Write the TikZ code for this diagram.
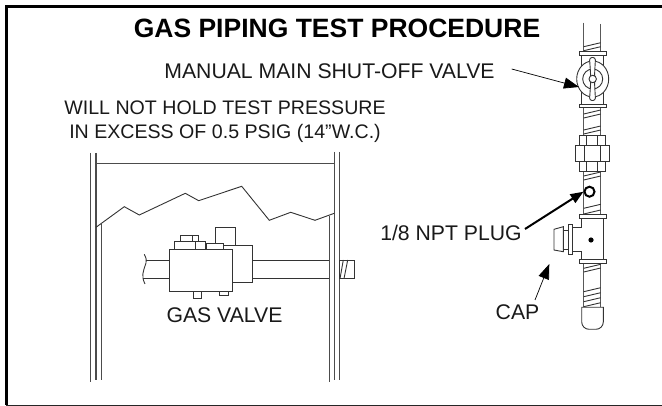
\documentclass[tikz,border=0pt]{standalone}
\usepackage{fontspec}
\setmainfont{Liberation Sans}
\usetikzlibrary{arrows.meta}
\tikzset{
  ln/.style={draw=black!80,line width=0.9pt,line join=miter},
  pipeln/.style={draw=black!65,line width=1.2pt},
  wall/.style={draw=black!70,line width=1.1pt},
  part/.style={ln,fill=white},
  lab/.style={inner sep=0pt,font=\fontsize{21.2}{24}\selectfont,text=black!90},
  labhold/.style={inner sep=0pt,font=\fontsize{19.6}{24}\selectfont,text=black!90},
  ptr/.style={draw=black,line width=0.7pt,-{Triangle[length=15pt,width=11pt]}},
  ptrb/.style={draw=black,line width=2pt,-{Triangle[length=13pt,width=10pt]}},
}
\begin{document}
\begin{tikzpicture}[x=1pt,y=-1pt]
\useasboundingbox (0,0) rectangle (662,406);
% frame
\draw[black,line width=3pt] (662,7) -- (6,7) -- (6,405);
\draw[black!85,line width=1pt] (6,405) -- (662,405);
% walls
\draw[wall] (90.7,153) -- (90.7,382);
\draw[wall] (96,153) -- (96,380);
\draw[wall] (101.3,224) -- (101.3,380);
\draw[wall] (329.3,216) -- (329.3,382);
\draw[wall] (334.3,152) -- (334.3,380);
\draw[wall] (339.5,152) -- (339.5,380);
\draw[wall] (96,163.3) -- (334.3,163.3);
\draw[ln] (96,227.3) -- (124.3,206.7) -- (139.3,215) -- (185.3,193.3) -- (198.7,200.7) -- (241.7,186.3) -- (269.3,220.3) -- (290.7,212.3) -- (315,220.3) -- (334.3,213.3);
% gas valve
\draw[ln] (145.7,260) -- (169.7,260) (143,278.7) -- (169.7,278.7);
\draw[ln] (144.3,254.3) .. controls (146,258) and (147,260) .. (146,263) .. controls (143,272) and (141,276) .. (145,284);
\draw[ln] (252.7,260) -- (329.3,260) (252.7,278.7) -- (329.3,278.7);
\draw[part] (339.5,260) rectangle (354,278.7);
\draw[ln] (343.3,260) -- (340,278.7) (347.7,260) -- (344,278.7);
\draw[part] (215,227.7) rectangle (235.7,245.3);
\draw[part] (223,245.3) -- (252.7,245.3) -- (252.7,282.7) -- (232.3,282.7);
\draw[part] (180.3,235.3) rectangle (198.7,241.3);
\draw[ln] (192.3,235.3) -- (192.3,241.3);
\draw[part] (174.3,241.3) rectangle (205.3,249.3);
\draw[ln] (195.7,241.3) -- (195.7,249.3);
\draw[part] (206,243.7) rectangle (223.3,249.3);
\draw[part] (169.7,249.3) rectangle (232.3,291);
\draw[part] (193.3,291) rectangle (201.7,298.3);
\draw[part] (219.3,291) rectangle (228,295.3);
% pipe
\draw[pipeln] (583.7,22.7) -- (583.7,307.3);
\draw[pipeln] (600.7,24) -- (600.7,307.3);
\foreach \y in {46.7,50.7,114,118,130,134,176,180,208.3,214,268.3,272,291.7,296.7,301.7,306.7}
  \draw[ln] (583.7,\y) -- (600.7,\y-4);
% shut-off valve
\draw[part] (581.3,55) rectangle (603.3,104);
\draw[part] (579,51.7) rectangle (606,55);
\draw[part] (579,104) rectangle (606,107.3);
\draw[part] (592.7,79) ellipse (16 and 18);
\draw[ln] (592.7,79) circle (10);
\draw[part,rounded corners=2.5pt] (589.5,57.5) -- (595.5,57.5) -- (594.5,76) -- (594.5,82) -- (595.5,100.5) -- (589.5,100.5) -- (590.7,82) -- (590.7,76) -- cycle;
\draw[part] (592.7,79) circle (3.7);
% union
\draw[part] (579.3,135.7) rectangle (605,145.7);
\draw[ln] (586.7,135.7) -- (586.7,145.7) (597.3,135.7) -- (597.3,145.7);
\draw[part] (579.3,161) rectangle (605,171);
\draw[ln] (586.7,161) -- (586.7,171) (597.3,161) -- (597.3,171);
\draw[part] (575.7,145.7) rectangle (609.3,161);
\draw[ln] (584.7,145.7) -- (584.7,161) (600.7,145.7) -- (600.7,161);
% tee
\draw[part] (581.7,218.7) -- (603.3,218.7) -- (603.3,259.7) -- (581.7,259.7) -- (581.7,251.7) -- (572.7,251.7) -- (572.7,227.3) -- (581.7,227.3) -- cycle;
\draw[part] (579,214.3) rectangle (606,218.7);
\draw[part] (579,259.7) rectangle (606,263.3);
\draw[part] (568.7,224.3) rectangle (572.7,254);
\draw[part] (563.3,230) rectangle (568.7,249.3);
\draw[part] (563.3,226.7) -- (554,229.3) -- (554,250) -- (563.3,251.7) -- cycle;
\fill[black] (591,240) circle (2.6);
% pipe cap
\draw[part] (581.7,307.3) -- (603.3,307.3) -- (603.3,322) arc (0:90:7.3) -- (589,329.3) arc (90:180:7.3) -- cycle;
% plug
\node[circle,draw=black,line width=2pt,fill=white,minimum size=10pt,inner sep=0pt] (plug) at (589.5,191.7) {};
% labels
\node[inner sep=0pt,font=\bfseries\fontsize{26.5}{30}\selectfont] (title) at (337,28.5) {GAS PIPING TEST PROCEDURE};
\node[lab] (manual) at (329.5,71.5) {MANUAL MAIN SHUT-OFF VALVE};
\node[labhold,align=center] (hold) at (225,122) {WILL NOT HOLD TEST PRESSURE\\IN EXCESS OF 0.5 PSIG (14”W.C.)};
\node[lab] (gas) at (224.5,315) {GAS VALVE};
\node[lab] (npt) at (451,232.5) {1/8 NPT PLUG};
\node[lab] (cap) at (517.5,312) {CAP};
% arrows
\coordinate (vt) at (579,87);
\coordinate (vs) at (511.7,69);
\coordinate (ct) at (549.3,264);
\coordinate (cs) at (535,300);
\draw[ptr] (vs) -- (vt);
\draw[ptrb] (525,229) -- (plug.west);
\draw[ptr] (cs) -- (ct);
\end{tikzpicture}
\end{document}
